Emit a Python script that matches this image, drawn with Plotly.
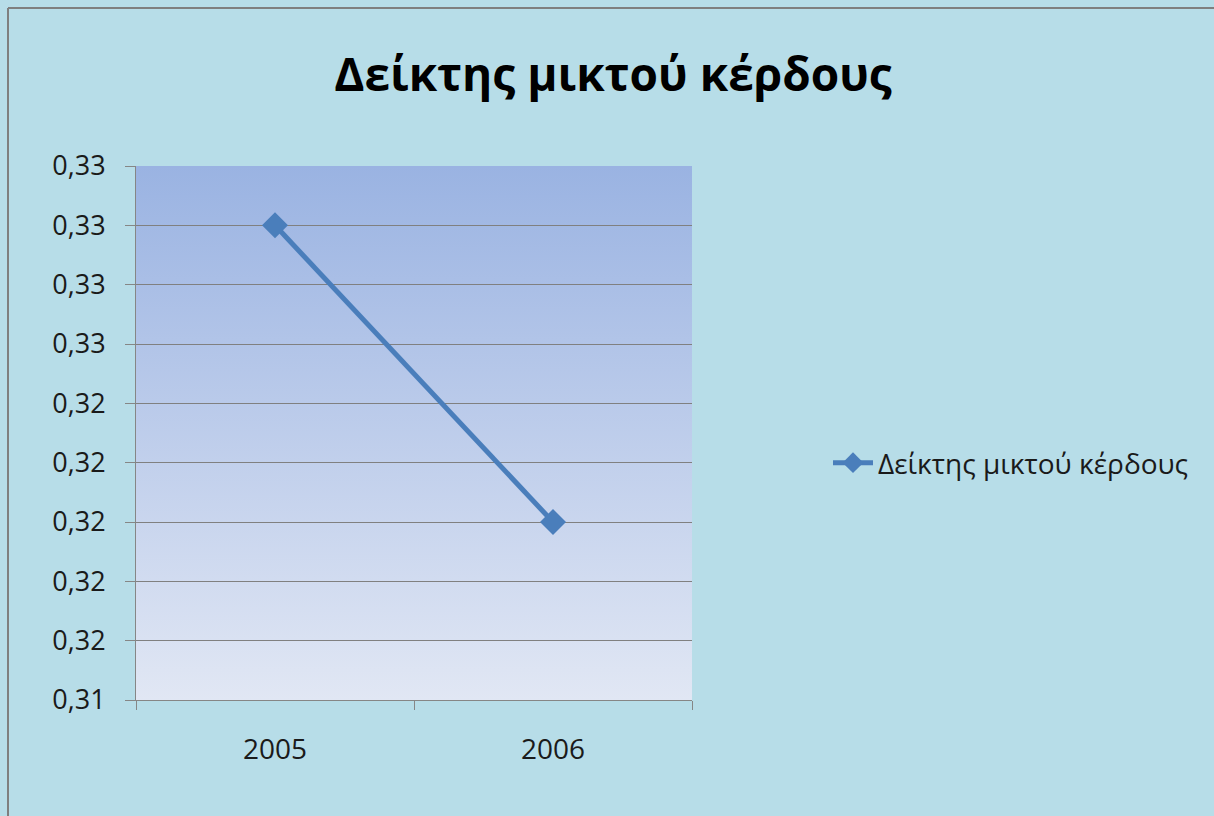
import base64
import plotly.graph_objects as go

# ---- data ----
years = ["2005", "2006"]
values = [0.330, 0.320]
series_name = "Δείκτης μικτού κέρδους"
title_text = "Δείκτης μικτού κέρδους"

W, H = 1214, 816
L, R, T, B = 136, 692, 166, 700

# gradient background for the plot area (SVG data URI)
svg = (
    '<svg xmlns="http://www.w3.org/2000/svg" width="100" height="100" preserveAspectRatio="none">'
    '<defs><linearGradient id="g" x1="0" y1="0" x2="0" y2="1">'
    '<stop offset="0" stop-color="#9ab3e2"/>'
    '<stop offset="1" stop-color="#e1e7f4"/>'
    '</linearGradient></defs>'
    '<rect width="100" height="100" fill="url(#g)"/></svg>'
)
svg_uri = "data:image/svg+xml;base64," + base64.b64encode(svg.encode()).decode()

fig = go.Figure()
fig.add_trace(go.Scatter(
    x=years, y=values, name=series_name, mode="lines+markers",
    line=dict(color="#4a7ebb", width=5),
    marker=dict(symbol="diamond", size=20, color="#4a7ebb"),
    showlegend=True,
))

fig.update_layout(
    width=W, height=H,
    margin=dict(l=L, r=W - R, t=T, b=H - B, pad=0),
    paper_bgcolor="#b7dde8",
    plot_bgcolor="rgba(0,0,0,0)",
    separators=",.",
    font=dict(family="Open Sans, Noto Sans, DejaVu Sans", color="#1a1a1a"),
    title=dict(
        text="<b>" + title_text + "</b>",
        x=613 / W, xanchor="center", xref="container",
        y=1 - 75 / H, yanchor="middle", yref="container",
        font=dict(size=46, color="#000000"),
    ),
    showlegend=True,
    legend=dict(
        x=(828 - L) / (R - L), xanchor="left",
        y=(B - 463) / (B - T), yanchor="middle",
        bgcolor="rgba(0,0,0,0)",
        font=dict(size=28, color="#1a1a1a"),
        itemwidth=40,
    ),
    images=[dict(
        source=svg_uri, xref="x domain", yref="y domain",
        x=0, y=1, sizex=1, sizey=1, xanchor="left", yanchor="top",
        sizing="stretch", layer="below",
    )],
    shapes=[
        dict(type="line", xref="paper", yref="paper",
             x0=-(L - 8) / (R - L), x1=(W + 10 - L) / (R - L),
             y0=1 + (T - 8) / (B - T), y1=1 + (T - 8) / (B - T),
             line=dict(color="#7f7f7f", width=2)),
        dict(type="line", xref="paper", yref="paper",
             x0=-(L - 8) / (R - L), x1=-(L - 8) / (R - L),
             y0=-(H + 10 - B) / (B - T), y1=1 + (T - 8) / (B - T),
             line=dict(color="#7f7f7f", width=2)),
    ],
)

fig.update_xaxes(
    type="category", range=[-0.5, 1.5],
    showgrid=False, showline=True, linecolor="#868686", linewidth=1,
    ticks="outside", tickson="boundaries", ticklen=9, tickcolor="#868686",
    tickfont=dict(size=28, color="#1a1a1a"),
    ticklabelstandoff=24,
    zeroline=False,
)
fig.update_yaxes(
    range=[0.314, 0.332], tick0=0.314, dtick=0.002, tickformat=".2f",
    showgrid=True, gridcolor="#808080", gridwidth=1,
    showline=True, linecolor="#868686", linewidth=1,
    ticks="outside", ticklen=10, tickcolor="#868686",
    tickfont=dict(size=27, color="#1a1a1a"),
    ticklabelstandoff=14,
    zeroline=False,
)

fig.write_html("out.html")
